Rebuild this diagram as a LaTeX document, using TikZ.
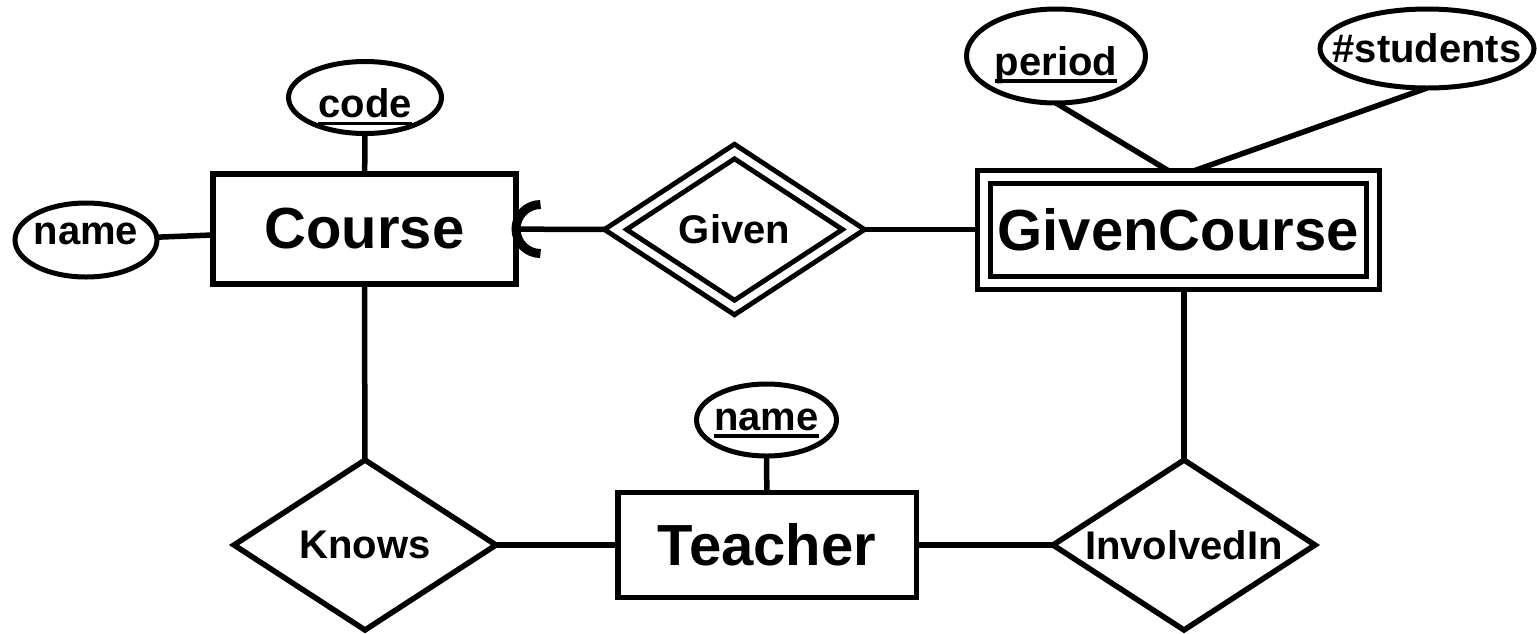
\documentclass[tikz,border=0pt]{standalone}
\usepackage{fontspec}
\setmainfont{Liberation Sans}
\usetikzlibrary{shapes.geometric}
\pgfdeclarelayer{background}
\pgfsetlayers{background,main}
\newcommand{\keyul}[1]{\setbox0\hbox{#1}\rlap{\rule[-7.5pt]{\wd0}{3.5pt}}\box0}
\newcommand{\zw}[1]{\makebox[0pt]{#1}}
\begin{document}
\begin{tikzpicture}[x=1pt,y=-1pt,line width=5.5pt,
  every node/.style={outer sep=0pt,inner sep=0pt,fill=white,draw,font=\bfseries\fontsize{40}{48}\selectfont},
  entity/.style={rectangle,font=\bfseries\fontsize{58}{70}\selectfont},
  attr/.style={ellipse,line width=5pt},
  rel/.style={diamond,shape aspect=1.5},
  weakent/.style={entity,double=white,double distance=8pt,line width=5pt},
  weakrel/.style={rel,double=white,double distance=7pt,line width=5pt},
  conn/.style={line width=5.5pt},
  part/.style={line width=9pt}]
\useasboundingbox (0,0) rectangle (1537,633);
% entities
\node[entity,minimum width=303pt,minimum height=110pt] (course) at (364.5,229) {Course};
\node[weakent,minimum width=389pt,minimum height=106pt] (gc) at (1178,229.5) {GivenCourse};
\node[entity,minimum width=298.5pt,minimum height=105pt] (teacher) at (767,545) {Teacher};
% relationships
\node[weakrel,minimum width=238pt,minimum height=156pt] (given) at (734.5,229.5) {Given};
\node[rel,minimum width=262pt,minimum height=170pt] (knows) at (365,545) {Knows};
\node[rel,minimum width=262pt,minimum height=170pt] (inv) at (1184,545) {InvolvedIn};
% attributes
\node[attr,minimum width=142pt,minimum height=74pt,text height=8pt,text depth=0pt] (cname) at (86,240) {\zw{name}};
\node[attr,minimum width=153pt,minimum height=72pt,text height=40pt,text depth=0pt] (code) at (365,97.5) {\zw{\keyul{code}}};
\node[attr,minimum width=179pt,minimum height=94pt,text height=38pt,text depth=0pt] (period) at (1056,56) {\zw{\keyul{period}}};
\node[attr,minimum width=214pt,minimum height=79pt] (nst) at (1427,48.5) {\zw{\#students}};
\node[attr,minimum width=140pt,minimum height=72pt,text height=20pt,text depth=0pt] (tname) at (766.5,420) {\zw{\keyul{name}}};
% connectors
\begin{pgfonlayer}{background}
\draw[conn] (cname) -- (course);
\draw[conn] (code) -- (course);
\draw[conn] (course) -- (knows);
\draw[conn] (knows) -- (teacher);
\draw[conn] (tname) -- (teacher);
\draw[conn] (teacher) -- (inv);
\draw[conn] (inv.north |- gc.south) -- (inv);
\draw[conn] (given) -- (gc);
\draw[conn] (course) -- (given);
\draw[conn] (period.south) -- (gc.north);
\draw[conn] (nst.south) -- (gc.north);
\end{pgfonlayer}
\draw[part] ([xshift=24.5pt]course.east) ++(90:24.5) arc[start angle=90,end angle=270,radius=24.5];
\end{tikzpicture}
\end{document}
